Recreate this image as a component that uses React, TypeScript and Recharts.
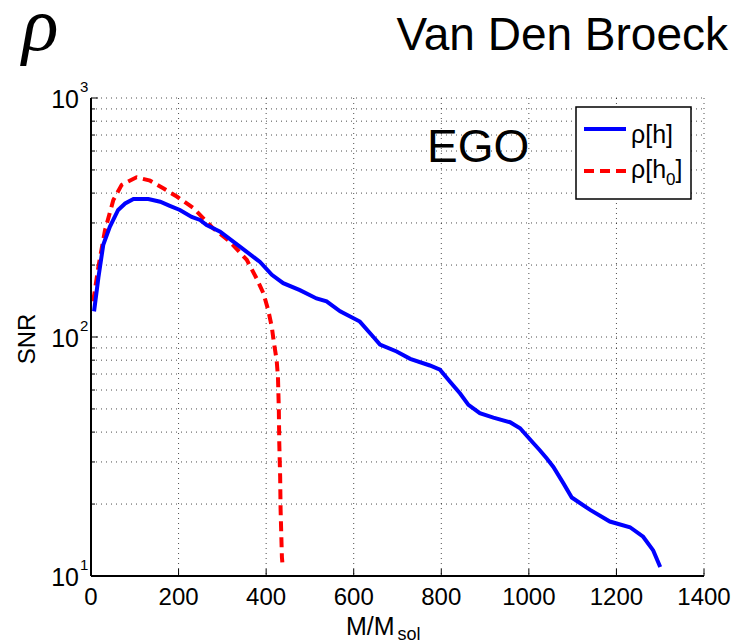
import React from "react";
import {
  LineChart,
  Line,
  XAxis,
  YAxis,
  CartesianGrid,
} from "recharts";

// rho[h]: full waveform
const massH = [
  7, 17, 28, 43, 62, 78, 97, 131, 158, 180, 203, 230, 249, 264, 295, 340, 386,
  413, 439, 477, 515, 538, 569, 614, 645, 660, 698, 729, 774, 797, 820, 843,
  862, 888, 919, 957, 980, 1010, 1025, 1041, 1056, 1079, 1098, 1140, 1185,
  1231, 1261, 1284, 1300,
];
const snrH = [
  128, 178, 243, 289, 340, 362, 378, 378, 368, 354, 340, 318, 309, 294, 276,
  239, 206, 182, 168, 157, 145, 141, 128, 116, 100, 93, 87, 81, 76, 73, 65, 58,
  52, 48, 46, 44, 41.5, 36, 33.6, 31, 28.6, 24.4, 21.3, 18.9, 16.9, 16.0, 14.6,
  12.8, 10.9,
];

// rho[h0]: dominant harmonic only
const massH0 = [
  5, 17, 32, 51, 70, 104, 135, 165, 196, 234, 279, 317, 356, 378, 394, 405,
  413, 418, 424, 427, 429, 430, 432, 433, 436, 437,
];
const snrH0 = [
  141, 197, 280, 374, 433, 466, 451, 419, 387, 346, 285, 251, 210, 176, 152,
  129, 110, 94, 80, 68, 49.5, 36, 26, 19, 12, 11.4,
];

const xTicks = [0, 200, 400, 600, 800, 1000, 1200, 1400];
const yTicks = [
  10, 20, 30, 40, 50, 60, 70, 80, 90, 100, 200, 300, 400, 500, 600, 700, 800,
  900, 1000,
];

const seriesH = massH.map((m, i) => ({ m, snr: snrH[i] }));
const seriesH0 = massH0.map((m, i) => ({ m, snr: snrH0[i] }));

const FONT = "'Liberation Sans', Arial, Helvetica, sans-serif";

const isDecade = (v: number) => [10, 100, 1000].includes(v);

const XTickBottom = ({ x, y, payload }: any) => (
  <g>
    <line x1={x} x2={x} y1={y} y2={y - 7} stroke="#000" strokeWidth={1} />
    <text x={x} y={y + 29} textAnchor="middle" fontSize={24} fontFamily={FONT} fill="#000">
      {payload.value}
    </text>
  </g>
);

const XTickTop = ({ x, y }: any) => (
  <line x1={x} x2={x} y1={y} y2={y + 7} stroke="#000" strokeWidth={1} />
);

const YTickLeft = ({ x, y, payload }: any) => {
  const v = payload.value;
  const major = isDecade(v);
  return (
    <g>
      <line x1={x} x2={x + (major ? 7 : 4)} y1={y} y2={y} stroke="#000" strokeWidth={1} />
      {major && (
        <text fontFamily={FONT} fill="#000">
          <tspan x={x - 12} y={y + 10} textAnchor="end" fontSize={25}>
            10
          </tspan>
          <tspan x={x - 11} y={y - 6} fontSize={15}>
            {Math.round(Math.log10(v))}
          </tspan>
        </text>
      )}
    </g>
  );
};

const YTickRight = ({ x, y, payload }: any) => {
  const major = isDecade(payload.value);
  return <line x1={x} x2={x - (major ? 7 : 4)} y1={y} y2={y} stroke="#000" strokeWidth={1} />;
};

export default function App() {
  return (
    <div style={{ position: "relative", width: 740, height: 644, background: "#fff" }}>
      <style>{`body{margin:0}`}</style>
      <LineChart
        width={740}
        height={644}
        margin={{ top: 98, right: 36, bottom: 0, left: 0 }}
      >
        <CartesianGrid
          stroke="#000"
          strokeOpacity={0.7}
          strokeDasharray="1 4"
          strokeWidth={1}
        />
        <XAxis
          dataKey="m"
          type="number"
          domain={[0, 1400]}
          ticks={xTicks}
          interval={0}
          height={68}
          tickSize={0}
          tickMargin={0}
          axisLine={{ stroke: "#000", strokeWidth: 2 }}
          tick={<XTickBottom />}
          allowDataOverflow
        />
        <XAxis
          xAxisId="top"
          orientation="top"
          dataKey="m"
          type="number"
          domain={[0, 1400]}
          ticks={xTicks}
          interval={0}
          height={0}
          tickSize={0}
          tickMargin={0}
          axisLine={{ stroke: "#000", strokeWidth: 1.5 }}
          tick={<XTickTop />}
          allowDataOverflow
        />
        <YAxis
          scale="log"
          domain={[10, 1000]}
          ticks={yTicks}
          interval={0}
          width={91}
          tickSize={0}
          tickMargin={0}
          axisLine={{ stroke: "#000", strokeWidth: 2 }}
          tick={<YTickLeft />}
          allowDataOverflow
        />
        <YAxis
          yAxisId="right"
          orientation="right"
          scale="log"
          domain={[10, 1000]}
          ticks={yTicks}
          interval={0}
          width={0}
          tickSize={0}
          tickMargin={0}
          axisLine={{ stroke: "#000", strokeWidth: 2 }}
          tick={<YTickRight />}
          allowDataOverflow
        />
        <Line
          data={seriesH0}
          dataKey="snr"
          type="linear"
          stroke="#ff0000"
          strokeWidth={4}
          strokeDasharray="10 6"
          dot={false}
          isAnimationActive={false}
        />
        <Line
          data={seriesH}
          dataKey="snr"
          type="linear"
          stroke="#0000ff"
          strokeWidth={4}
          dot={false}
          isAnimationActive={false}
        />
      </LineChart>

      <svg
        width={740}
        height={644}
        style={{ position: "absolute", left: 0, top: 0, pointerEvents: "none" }}
      >
        <text x={22} y={50} fontSize={76} fontStyle="italic" fontFamily="'Liberation Serif', 'Times New Roman', serif">
          ρ
        </text>
        <text x={728} y={50} textAnchor="end" fontSize={46} fontFamily={FONT}>
          Van Den Broeck
        </text>
        <text x={427} y={162} fontSize={46} fontFamily={FONT}>
          EGO
        </text>

        <rect x={576} y={107} width={115} height={92} fill="#fff" stroke="#000" strokeWidth={1.5} />
        <line x1={584} x2={626} y1={129} y2={129} stroke="#0000ff" strokeWidth={4} />
        <line x1={584} x2={626} y1={171} y2={171} stroke="#ff0000" strokeWidth={4} strokeDasharray="10 6" />
        <text x={631} y={143} fontSize={25} fontFamily={FONT}>
          ρ[h]
        </text>
        <text x={631} y={178} fontSize={25} fontFamily={FONT}>
          ρ[h<tspan fontSize={17} dy={7}>0</tspan>
          <tspan dy={-7}>]</tspan>
        </text>

        <text
          x={35}
          y={339}
          textAnchor="middle"
          fontSize={24}
          fontFamily={FONT}
          transform="rotate(-90 35 339)"
        >
          SNR
        </text>
        <text x={346} y={635} fontSize={25} fontFamily={FONT}>
          M/M<tspan fontSize={18} dx={3} dy={5}>sol</tspan>
        </text>
      </svg>
    </div>
  );
}
